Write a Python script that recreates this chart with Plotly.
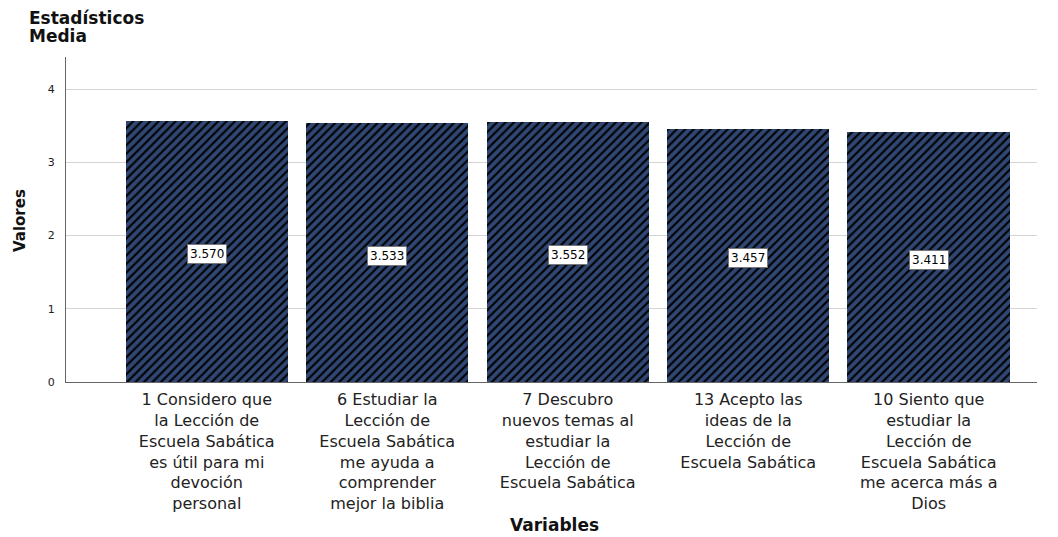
import plotly.graph_objects as go

categories = [
    "1 Considero que<br>la Lección de<br>Escuela Sabática<br>es útil para mi<br>devoción<br>personal",
    "6 Estudiar la<br>Lección de<br>Escuela Sabática<br>me ayuda a<br>comprender<br>mejor la biblia",
    "7 Descubro<br>nuevos temas al<br>estudiar la<br>Lección de<br>Escuela Sabática",
    "13 Acepto las<br>ideas de la<br>Lección de<br>Escuela Sabática",
    "10 Siento que<br>estudiar la<br>Lección de<br>Escuela Sabática<br>me acerca más a<br>Dios",
]
values = [3.570, 3.533, 3.552, 3.457, 3.411]
y_ticks = [0, 1, 2, 3, 4]

xs = list(range(len(categories)))

fig = go.Figure()
fig.add_trace(go.Bar(
    x=xs, y=values, width=0.9,
    marker=dict(
        color="#000000",
        line=dict(width=0),
        pattern=dict(shape="/", bgcolor="#000000", fgcolor="#5f8ee6",
                     size=6, solidity=0.65, fillmode="overlay"),
    ),
    hoverinfo="skip",
))

for x, v in zip(xs, values):
    fig.add_annotation(x=x, y=v / 2, text=f"{v:.3f}", showarrow=False,
                       yshift=-3,
                       font=dict(family="DejaVu Sans", size=12, color="#000"),
                       bgcolor="white", bordercolor="#777", borderwidth=1, borderpad=2)

fig.update_layout(
    width=1058, height=537,
    margin=dict(l=66, r=21, t=57, b=155),
    paper_bgcolor="white", plot_bgcolor="white",
    showlegend=False,
    bargap=0,
    font=dict(family="DejaVu Sans", color="#222"),
)
fig.update_xaxes(
    range=[-0.78, 4.6], tickmode="array", tickvals=xs, ticktext=categories,
    tickangle=0, showgrid=False, showline=True, linecolor="#666", linewidth=1,
    ticks="", ticklabelstandoff=3,
    tickfont=dict(family="DejaVu Sans", size=16, color="#222"),
    zeroline=False,
)
fig.update_yaxes(
    range=[0, 4.44], tickvals=y_ticks, showgrid=True, gridcolor="#d4d4d4", gridwidth=1,
    showline=True, linecolor="#666", linewidth=1, zeroline=False,
    ticks="", ticklabelstandoff=8,
    tickfont=dict(family="DejaVu Sans", size=11, color="#222"),
)

# titles
fig.add_annotation(text="<b>Estadísticos</b>", xref="paper", yref="paper", x=(27 - 66) / 971, y=1 + 39/325,
                   xanchor="left", yanchor="middle", showarrow=False,
                   font=dict(family="DejaVu Sans", size=17, color="#111"))
fig.add_annotation(text="<b>Media</b>", xref="paper", yref="paper", x=(27 - 66) / 971, y=1 + 21/325,
                   xanchor="left", yanchor="middle", showarrow=False,
                   font=dict(family="DejaVu Sans", size=17, color="#111"))
fig.add_annotation(text="<b>Valores</b>", xref="paper", yref="paper", x=(20 - 66) / 971, y=(382 - 221) / 325,
                   xanchor="center", yanchor="middle", showarrow=False, textangle=-90,
                   font=dict(family="DejaVu Sans", size=15, color="#111"))
fig.add_annotation(text="<b>Variables</b>", xref="paper", yref="paper", x=0.503, y=-143/325,
                   xanchor="center", yanchor="middle", showarrow=False,
                   font=dict(family="DejaVu Sans", size=17, color="#111"))

fig.write_html("out.html", config={"displayModeBar": False},
               post_script="document.body.style.margin='0';document.body.style.padding='0';")
